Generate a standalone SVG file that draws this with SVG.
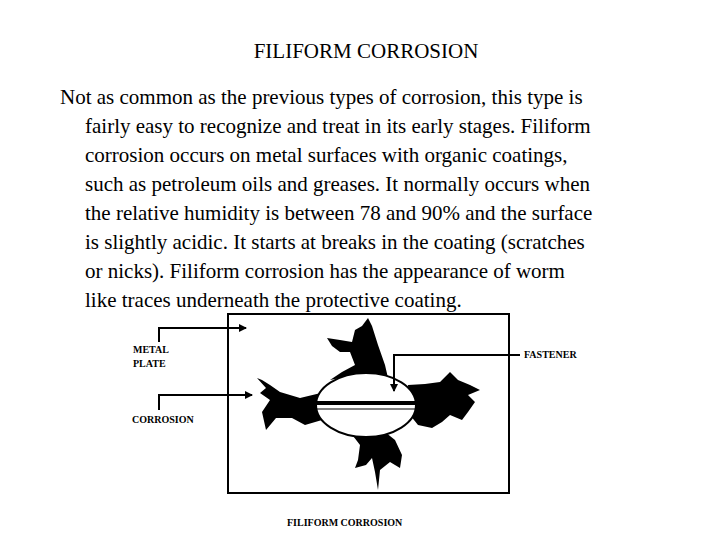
<svg xmlns="http://www.w3.org/2000/svg" width="720" height="540" viewBox="0 0 720 540">
<style>
.t{font-family:'Times New Roman',Tinos,'Nimbus Roman','DejaVu Serif',serif;font-size:21px;fill:#000}
.l{font-family:'Times New Roman',Tinos,'Nimbus Roman','DejaVu Serif',serif;font-size:10px;font-weight:bold;fill:#000}
.c{fill:none;stroke:#000;stroke-width:2}
.b{fill:#000}
</style>
<defs><marker id="a" markerWidth="8" markerHeight="8" refX="7" refY="4" orient="auto" markerUnits="userSpaceOnUse"><path d="M0,0L8,4L0,8z" fill="#000"/></marker></defs>
<rect width="720" height="540" fill="#fff"/>
<text x="366" y="58" text-anchor="middle" class="t" font-size="22">FILIFORM CORROSION</text>
<g class="t">
<text x="60" y="104">Not as common as the previous types of corrosion, this type is</text>
<text x="85" y="133">fairly easy to recognize and treat in its early stages.  Filiform</text>
<text x="85" y="162">corrosion occurs on metal surfaces with organic coatings,</text>
<text x="85" y="191">such as petroleum oils and greases.  It normally occurs when</text>
<text x="85" y="220">the relative humidity is between 78 and 90% and the surface</text>
<text x="85" y="249">is slightly acidic.  It starts at breaks in the coating (scratches</text>
<text x="85" y="278">or nicks).  Filiform corrosion has the appearance of worm</text>
<text x="85" y="307">like traces underneath the protective coating.</text>
</g>
<g id="plate"><rect x="228" y="314" width="281" height="179" fill="none" stroke="#000" stroke-width="2"/></g>
<g id="corrosion">
<path class="b" d="M325,392 L300,398 L280,392 L270,385 L262,380 L257,378 L266,388 L260,393 L270,400 L262,412 L266,430 L276,418 L292,418 L305,425 L322,420z"/>
<path class="b" d="M330,380 L342,372 L355,365 L350,352 L340,352 L332,346 L327,338 L340,340 L352,342 L355,330 L362,326 L368,318 L372,326 L378,345 L385,365 L388,378 L365,373z"/>
<path class="b" d="M408,385 L425,384 L440,382 L450,372 L458,380 L470,385 L480,390 L468,395 L475,402 L468,412 L462,420 L450,415 L442,422 L432,428 L418,425 L410,415z"/>
<path class="b" d="M350,432 L360,445 L358,460 L355,468 L366,465 L372,458 L375,472 L378,490 L380,470 L390,462 L400,468 L402,455 L395,440 L385,432 L368,436z"/>
<ellipse cx="366" cy="405" rx="50" ry="32" fill="#fff" stroke="#000" stroke-width="2"/>
</g>
<g id="fastener"><rect x="317" y="401" width="98" height="4" fill="#000"/><line x1="317" y1="409" x2="415" y2="409" stroke="#000" stroke-width="1.2"/></g>
<g id="connectors">
<path class="c" d="M159,342V328H246" marker-end="url(#a)"/>
<path class="c" d="M159,410V395H252" marker-end="url(#a)"/>
<path class="c" d="M520,355H394V391" marker-end="url(#a)"/>
</g>
<g id="labels">
<text x="133" y="353" class="l">METAL</text>
<text x="133" y="367" class="l">PLATE</text>
<text x="132" y="423" class="l">CORROSION</text>
<text x="524" y="358" class="l">FASTENER</text>
<text x="287" y="526" class="l" font-size="13">FILIFORM CORROSION</text>
</g>
</svg>
